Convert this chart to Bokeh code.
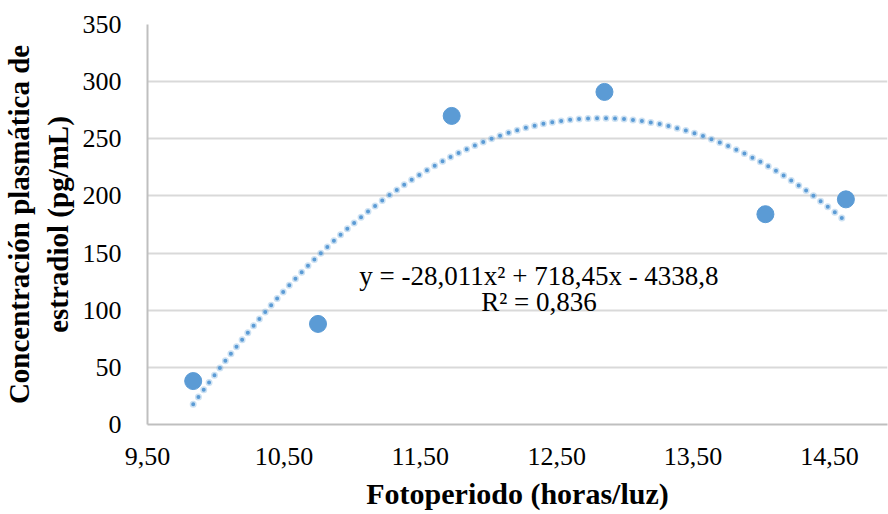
import numpy as np
from bokeh.plotting import figure
from bokeh.models import Range1d, FixedTicker, Label
from bokeh.embed import file_html
from bokeh.resources import INLINE

# Data
fotoperiodo = [9.835, 10.75, 11.73, 12.85, 14.03, 14.62]
estradiol = [38, 88, 270, 291, 184, 197]

# Polynomial trendline coefficients (as printed on the chart)
trend_coef = [-28.011, 718.45, -4338.8]
equation_text = "y = -28,011x² + 718,45x - 4338,8"
r2_text = "R² = 0,836"

x_ticks = [9.5, 10.5, 11.5, 12.5, 13.5, 14.5]
x_tick_labels = ["9,50", "10,50", "11,50", "12,50", "13,50", "14,50"]
y_ticks = [0, 50, 100, 150, 200, 250, 300, 350]
x_title = "Fotoperiodo (horas/luz)"
y_title = "Concentración plasmática de\nestradiol (pg/mL)"

FONT = "Liberation Serif"
BLUE = "#5b9bd5"

p = figure(width=888, height=514, output_backend="svg", toolbar_location=None,
           x_range=Range1d(9.5, 14.925), y_range=Range1d(0, 350),
           min_border_left=146, min_border_right=1, min_border_top=24, min_border_bottom=90)
p.outline_line_color = None
p.background_fill_color = "white"
p.border_fill_color = "white"

# Grid
p.xgrid.grid_line_color = None
p.ygrid.grid_line_color = "#d9d9d9"
p.ygrid.grid_line_width = 2
p.ygrid.ticker = FixedTicker(ticks=y_ticks)

# Axes
p.xaxis.ticker = FixedTicker(ticks=x_ticks)
p.xaxis.major_label_overrides = {t: l for t, l in zip(x_ticks, x_tick_labels)}
p.yaxis.ticker = FixedTicker(ticks=y_ticks)
for ax in (p.xaxis, p.yaxis):
    ax.axis_line_color = "#bfbfbf"
    ax.axis_line_width = 2
    ax.major_tick_line_color = None
    ax.minor_tick_line_color = None
    ax.major_label_text_font = FONT
    ax.major_label_text_font_size = "26px"
    ax.major_label_text_color = "#000000"
    ax.axis_label_text_font = FONT
    ax.axis_label_text_font_style = "bold"
    ax.axis_label_text_color = "#000000"

p.xaxis.axis_label = x_title
p.xaxis.axis_label_text_font_size = "30px"
p.xaxis.major_label_standoff = 17
p.xaxis.axis_label_standoff = 9

p.yaxis.axis_label = y_title
p.yaxis.axis_label_text_font_size = "29px"
p.yaxis.major_label_standoff = 20
p.yaxis.axis_label_standoff = 6

# Trendline (polynomial order 2)
xs = np.linspace(min(fotoperiodo), max(fotoperiodo), 300)
ys = np.polyval(trend_coef, xs)
p.line(xs, ys, line_color=BLUE, line_alpha=0.3, line_width=7, line_dash="0 9", line_cap="round")
p.line(xs, ys, line_color=BLUE, line_width=4, line_dash="0 9", line_cap="round")

# Data points
p.scatter(fotoperiodo, estradiol, size=17, fill_color=BLUE, line_color=BLUE)

# Equation labels
p.add_layout(Label(x=12.37, y=130, text=equation_text, text_align="center", text_baseline="alphabetic",
                   text_font=FONT, text_font_size="27px", text_color="#000000"))
p.add_layout(Label(x=12.37, y=107, text=r2_text, text_align="center", text_baseline="alphabetic",
                   text_font=FONT, text_font_size="27px", text_color="#000000"))

open("out.html", "w").write(file_html(p, INLINE))
